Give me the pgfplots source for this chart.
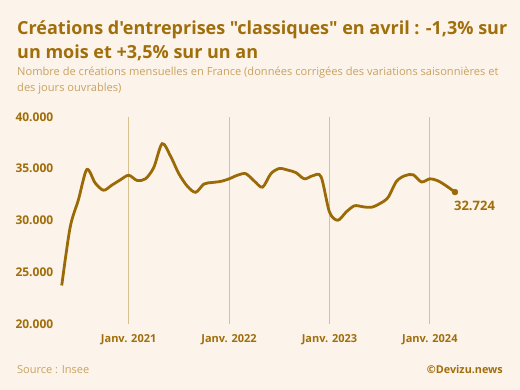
\documentclass[border=0pt]{standalone}
\usepackage{pgfplots}
\pgfplotsset{compat=1.18}
\usepackage{fontspec}
\setmainfont{Open Sans}[Ligatures=TeXOff]
\definecolor{bg}{HTML}{FCF3EA}
\definecolor{ttl}{HTML}{A06E0A}
\definecolor{ln}{HTML}{9A6A06}
\definecolor{sub}{HTML}{C9A260}
\definecolor{grd}{HTML}{D9C08F}
\pgfplotstableread{
m v
4 23700
5 29300
6 32000
7 34900
8 33600
9 32900
10 33400
11 33900
12 34350
13 33850
14 34000
15 35100
16 37400
17 36200
18 34500
19 33300
20 32700
21 33500
22 33650
23 33750
24 34000
25 34350
26 34500
27 33800
28 33200
29 34500
30 35000
31 34850
32 34600
33 34000
34 34300
35 34200
36 30800
37 30000
38 30800
39 31400
40 31300
41 31250
42 31600
43 32200
44 33750
45 34300
46 34400
47 33700
48 34000
49 33800
50 33300
51 32724
}\datatable
\begin{document}
\begin{tikzpicture}[x=1pt,y=1pt]
\fill[bg] (0,0) rectangle (520,390);
\useasboundingbox (0,0) rectangle (520,390);
\node[anchor=base west,inner sep=0pt,text=ttl,font=\fontsize{18}{22}\selectfont\bfseries] at (17,355) {Créations d'entreprises "classiques" en avril : -1,3\% sur};
\node[anchor=base west,inner sep=0pt,text=ttl,font=\fontsize{18}{22}\selectfont\bfseries] at (17,331) {un mois et +3,5\% sur un an};
\node[anchor=base west,inner sep=0pt,text=sub,font=\fontsize{11.1}{13}\selectfont] at (17,314) {Nombre de créations mensuelles en France (données corrigées des variations saisonnières et};
\node[anchor=base west,inner sep=0pt,text=sub,font=\fontsize{11.1}{13}\selectfont] at (17,298.5) {des jours ouvrables)};
\node[anchor=base west,inner sep=0pt,text=sub,font=\fontsize{11}{13}\selectfont] at (17,16.5) {Source : Insee};
\node[anchor=base east,inner sep=0pt,text=ttl,font=\fontsize{10.8}{13}\selectfont\bfseries] at (503,16.5) {©Devizu.news};
\begin{axis}[
  at={(73.8,64)}, anchor=south west,
  scale only axis, width=393.2pt, height=207pt,
  xmin=4, xmax=51, ymin=20000, ymax=40000,
  clip=false, scaled y ticks=false,
  axis line style={draw=none},
  tick style={draw=none},
  xtick={12,24,36,48},
  xticklabels={Janv. 2021,Janv. 2022,Janv. 2023,Janv. 2024},
  ytick={20000,25000,30000,35000,40000},
  yticklabels={20.000,25.000,30.000,35.000,40.000},
  xmajorgrids, grid style={grd, line width=1pt},
  xticklabel style={font=\fontsize{11}{13}\selectfont\bfseries, text=ttl, inner sep=0pt, anchor=north, yshift=-11pt},
  yticklabel style={font=\fontsize{12}{14}\selectfont\bfseries, text=ttl, inner sep=0pt, anchor=west, xshift=-46.4pt},
]
\addplot[ln, line width=2.8pt, smooth, tension=0.5] table[x=m,y=v] {\datatable};
\addplot[ln, only marks, mark=*, mark size=3pt] coordinates {(51,32724)} node[anchor=north west, inner sep=0pt, xshift=-1pt, yshift=-9pt, text=ttl, font=\fontsize{13}{15}\selectfont\bfseries] {32.724};
\end{axis}
\end{tikzpicture}
\end{document}
